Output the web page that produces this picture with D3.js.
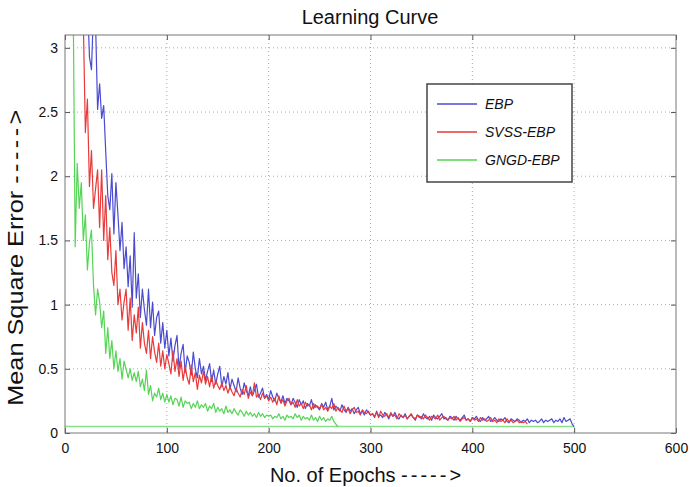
<!DOCTYPE html>
<html>
<head>
<meta charset="utf-8">
<script src="https://cdn.jsdelivr.net/npm/d3@7"></script>
<style>
  body { margin: 0; background: #fff; }
  svg { font-family: "Liberation Sans", Arial, sans-serif; }
</style>
</head>
<body>
<svg id="chart" width="690" height="487"></svg>
<script>
// sampled every 2 epochs (epoch = 2, 4, 6, ...)
const epochStep = 2;

const ebp = [
  8.5, 7.6, 6.8, 6.1, 5.5, 5.0, 4.6, 4.2, 3.9, 3.6,
  3.4, 2.93, 2.83, 3.3, 3.2, 2.52, 2.72, 2.45, 2.55, 2.19, 1.85, 1.74, 2.02, 1.55, 1.95, 1.7, 1.42, 1.64, 1.28, 1.45,
  1.14, 1.38, 0.98, 1.56, 1.05, 1.24, 0.9, 1.12, 0.96, 0.84, 1.12, 0.82, 1.02, 0.76, 0.9, 0.95, 0.7, 0.86, 0.66, 0.8,
  0.6, 0.74, 0.56, 0.68, 0.76, 0.5, 0.62, 0.69, 0.47, 0.6, 0.55, 0.45, 0.63, 0.5, 0.43, 0.58, 0.46, 0.52, 0.41, 0.48,
  0.54, 0.4, 0.49, 0.38, 0.46, 0.52, 0.36, 0.44, 0.38, 0.47, 0.34, 0.42, 0.37, 0.32, 0.43, 0.35, 0.3, 0.39, 0.33, 0.29,
  0.36, 0.29, 0.33, 0.38, 0.28, 0.31, 0.35, 0.27, 0.3, 0.26, 0.33, 0.28, 0.25, 0.31, 0.27, 0.24, 0.29, 0.23, 0.27, 0.25,
  0.22, 0.27, 0.24, 0.2, 0.26, 0.22, 0.25, 0.19, 0.23, 0.21, 0.26, 0.19, 0.22, 0.2, 0.18, 0.23, 0.2, 0.24, 0.18, 0.21,
  0.27, 0.18, 0.21, 0.19, 0.17, 0.22, 0.18, 0.16, 0.2, 0.17, 0.19, 0.15, 0.18, 0.2, 0.15, 0.17, 0.14, 0.18, 0.16, 0.14,
  0.15, 0.12, 0.17, 0.13, 0.14, 0.12, 0.16, 0.14, 0.11, 0.15, 0.13, 0.16, 0.12, 0.11, 0.14, 0.12, 0.15, 0.11, 0.13, 0.14,
  0.12, 0.1, 0.14, 0.13, 0.11, 0.15, 0.12, 0.11, 0.13, 0.1, 0.14, 0.12, 0.11, 0.13, 0.15, 0.11, 0.12, 0.1, 0.13, 0.12,
  0.1, 0.13, 0.11, 0.1, 0.12, 0.14, 0.1, 0.11, 0.09, 0.12, 0.11, 0.13, 0.1, 0.09, 0.12, 0.1, 0.11, 0.13, 0.09, 0.1,
  0.12, 0.1, 0.09, 0.11, 0.1, 0.12, 0.09, 0.08, 0.11, 0.1, 0.09, 0.11, 0.1, 0.08, 0.1, 0.09, 0.11, 0.08, 0.1, 0.09,
  0.1, 0.08, 0.09, 0.11, 0.08, 0.1, 0.09, 0.1, 0.11, 0.08, 0.1, 0.09, 0.11, 0.08, 0.12, 0.09, 0.1, 0.11, 0.07, 0.05
];

const svssEbp = [
  9.0, 7.8, 6.8, 5.9, 5.1, 4.4, 3.8, 3.3,
  3.2, 2.34, 2.6, 1.92, 2.2, 1.75, 1.9, 2.05, 1.6, 2.05, 1.5, 1.85, 1.35, 1.6, 1.25, 1.15, 1.42, 1.0, 1.12, 0.88,
  1.02, 1.12, 0.8, 1.05, 0.72, 0.92, 0.78, 0.98, 0.66, 0.86, 0.7, 0.62, 0.8, 0.58, 0.75, 0.63, 0.55, 0.7, 0.52, 0.64,
  0.5, 0.61, 0.54, 0.46, 0.64, 0.48, 0.58, 0.44, 0.56, 0.41, 0.52, 0.43, 0.38, 0.53, 0.4, 0.47, 0.34, 0.45, 0.39, 0.48,
  0.38, 0.44, 0.36, 0.45, 0.35, 0.41, 0.37, 0.34,
  0.39, 0.33, 0.37, 0.31, 0.36, 0.32, 0.29, 0.35, 0.31, 0.28, 0.34, 0.3, 0.37, 0.27, 0.32, 0.29, 0.39, 0.28, 0.3, 0.26, 0.31, 0.27, 0.29, 0.25,
  0.28, 0.24, 0.27, 0.22, 0.29, 0.23, 0.26, 0.21, 0.25, 0.27, 0.22, 0.24, 0.2, 0.26, 0.21, 0.23, 0.19, 0.24, 0.21, 0.22, 0.18, 0.23, 0.2, 0.21, 0.19,
  0.22, 0.18, 0.2, 0.17, 0.21, 0.19, 0.23, 0.17, 0.2, 0.18, 0.16, 0.21, 0.17, 0.19, 0.15, 0.18, 0.2, 0.16, 0.17, 0.14, 0.18, 0.16, 0.15, 0.17, 0.14,
  0.15, 0.13, 0.16, 0.12, 0.17, 0.14, 0.13, 0.15, 0.12, 0.16, 0.13, 0.14, 0.11, 0.15, 0.13, 0.12, 0.14, 0.11, 0.13, 0.15, 0.12, 0.11, 0.14, 0.12, 0.13,
  0.11, 0.14, 0.12, 0.1, 0.13, 0.12, 0.11, 0.14, 0.1, 0.12, 0.13, 0.11, 0.1, 0.12, 0.11, 0.13, 0.1, 0.12, 0.09, 0.11, 0.12, 0.1, 0.11, 0.09, 0.12,
  0.1, 0.11, 0.09, 0.12, 0.1, 0.11, 0.09, 0.1, 0.12, 0.09, 0.1, 0.08, 0.11, 0.09, 0.1, 0.08, 0.11, 0.09, 0.1, 0.08, 0.09, 0.1, 0.08, 0.09, 0.08, 0.09, 0.07
];

const gngdEbp = [
  6, 5, 4.2, 3.4, 1.45, 2.1, 1.75, 1.95, 1.5, 1.7,
  1.27, 1.48, 1.58, 1.15, 0.92, 1.12, 1.02, 0.82, 0.95, 0.62,
  0.82, 0.58, 0.72, 0.5, 0.64, 0.48, 0.58, 0.42, 0.56, 0.5,
  0.43, 0.5, 0.41, 0.47, 0.4, 0.48, 0.36, 0.42, 0.33, 0.49,
  0.3, 0.37, 0.25, 0.31, 0.28, 0.35, 0.26, 0.31, 0.24, 0.3,
  0.24, 0.29, 0.22, 0.27, 0.26, 0.21, 0.28, 0.2, 0.25, 0.23,
  0.24, 0.19, 0.23, 0.2, 0.25, 0.19, 0.22, 0.2, 0.23, 0.17,
  0.21, 0.19, 0.23, 0.16, 0.2, 0.17, 0.19, 0.15, 0.21, 0.16,
  0.18, 0.15, 0.19, 0.16, 0.14, 0.18, 0.16, 0.13, 0.17, 0.14,
  0.16, 0.13, 0.15, 0.12, 0.16, 0.13, 0.15, 0.12, 0.14, 0.13,
  0.14, 0.11, 0.13, 0.12, 0.15, 0.11, 0.13, 0.1, 0.14, 0.12,
  0.13, 0.11, 0.15, 0.12, 0.14, 0.1, 0.13, 0.11, 0.12, 0.1,
  0.14, 0.1, 0.12, 0.09, 0.13, 0.1, 0.12, 0.09, 0.11, 0.1,
  0.13, 0.09, 0.07, 0.05
];

// green target line at the bottom
const goalEpochs = [0, 500];
const goalValue = 0.05;

const xTicks = [0, 100, 200, 300, 400, 500, 600];
const yTicks = [0, 0.5, 1, 1.5, 2, 2.5, 3];

const seriesNames = ['EBP', 'SVSS-EBP', 'GNGD-EBP'];
const seriesColors = ['#4b4bd2', '#e83a3a', '#55d455'];

const svg = d3.select('#chart');
const margin = { top: 35, right: 14, bottom: 54, left: 65 };
const width = 690 - margin.left - margin.right;
const height = 487 - margin.top - margin.bottom;

const x = d3.scaleLinear().domain([0, 600]).range([0, width]);
const y = d3.scaleLinear().domain([0, 3.1]).range([height, 0]);

svg.append('rect').attr('width', 690).attr('height', 487).attr('fill', '#fff');

const g = svg.append('g').attr('transform', `translate(${margin.left},${margin.top})`);

g.append('clipPath').attr('id', 'clip')
  .append('rect').attr('width', width).attr('height', height);

// dotted grid
g.append('g').selectAll('line').data(xTicks.slice(1, -1)).enter().append('line')
  .attr('x1', d => x(d)).attr('x2', d => x(d)).attr('y1', 0).attr('y2', height)
  .attr('stroke', '#aaa').attr('stroke-dasharray', '1,3');
g.append('g').selectAll('line').data(yTicks.slice(1)).enter().append('line')
  .attr('y1', d => y(d)).attr('y2', d => y(d)).attr('x1', 0).attr('x2', width)
  .attr('stroke', '#aaa').attr('stroke-dasharray', '1,3');

// lines
const line = d3.line().x(d => x(d[0])).y(d => y(d[1]));
const toPoints = arr => arr.map((v, i) => [(i + 1) * epochStep, v]);
const lines = g.append('g').attr('clip-path', 'url(#clip)');

lines.append('path').datum(goalEpochs.map(e => [e, goalValue]))
  .attr('d', line).attr('fill', 'none').attr('stroke', '#86e286').attr('stroke-width', 1.5);

[ebp, svssEbp, gngdEbp].forEach((arr, i) => {
  lines.append('path').datum(toPoints(arr))
    .attr('d', line).attr('fill', 'none')
    .attr('stroke', seriesColors[i]).attr('stroke-width', 1.2)
    .attr('stroke-linejoin', 'round');
});

// axes with inward ticks on all sides, matlab style
const tickFmt = d3.format('');
const axisStyle = sel => {
  sel.select('.domain').remove();
  sel.selectAll('line').attr('stroke', '#555');
  sel.selectAll('text').attr('fill', '#111').style('font-size', '14px');
};
g.append('g').attr('transform', `translate(0,${height})`)
  .call(d3.axisBottom(x).tickValues(xTicks).tickSize(-5).tickPadding(10).tickFormat(tickFmt))
  .call(axisStyle);
g.append('g')
  .call(d3.axisTop(x).tickValues(xTicks).tickSize(-5).tickFormat(''))
  .call(axisStyle);
g.append('g')
  .call(d3.axisLeft(y).tickValues(yTicks).tickSize(-5).tickPadding(7).tickFormat(tickFmt))
  .call(axisStyle);
g.append('g').attr('transform', `translate(${width},0)`)
  .call(d3.axisRight(y).tickValues(yTicks).tickSize(-5).tickFormat(''))
  .call(axisStyle);

g.append('rect').attr('width', width).attr('height', height)
  .attr('fill', 'none').attr('stroke', '#777').attr('stroke-width', 1);

// titles
svg.append('text').attr('x', 370).attr('y', 24)
  .attr('text-anchor', 'middle').style('font-size', '20px').attr('fill', '#111')
  .text('Learning Curve');

const xLabel = svg.append('text').attr('x', 367).attr('y', 482)
  .attr('text-anchor', 'middle').style('font-size', '20px').attr('fill', '#111');
xLabel.append('tspan').text('No. of Epochs ');
xLabel.append('tspan').style('letter-spacing', '3px').text('----->');

const yLabel = svg.append('text').attr('transform', 'translate(23,256) rotate(-90) scale(1.15,1)')
  .attr('text-anchor', 'middle').style('font-size', '22px').attr('fill', '#111');
yLabel.append('tspan').text('Mean Square Error ');
yLabel.append('tspan').style('letter-spacing', '3px').text('----->');

// legend
const legend = svg.append('g').attr('transform', 'translate(427,84)');
legend.append('rect').attr('width', 145).attr('height', 98)
  .attr('fill', '#fff').attr('stroke', '#444').attr('stroke-width', 1.5);
seriesNames.forEach((name, i) => {
  const row = legend.append('g').attr('transform', `translate(0,${20 + i * 28})`);
  row.append('line').attr('x1', 10).attr('x2', 50).attr('stroke', seriesColors[i]).attr('stroke-width', 1.5);
  row.append('text').attr('x', 58).attr('dy', '0.35em')
    .style('font-size', '14px').style('font-style', 'italic').attr('fill', '#111')
    .text(name);
});
</script>
</body>
</html>
